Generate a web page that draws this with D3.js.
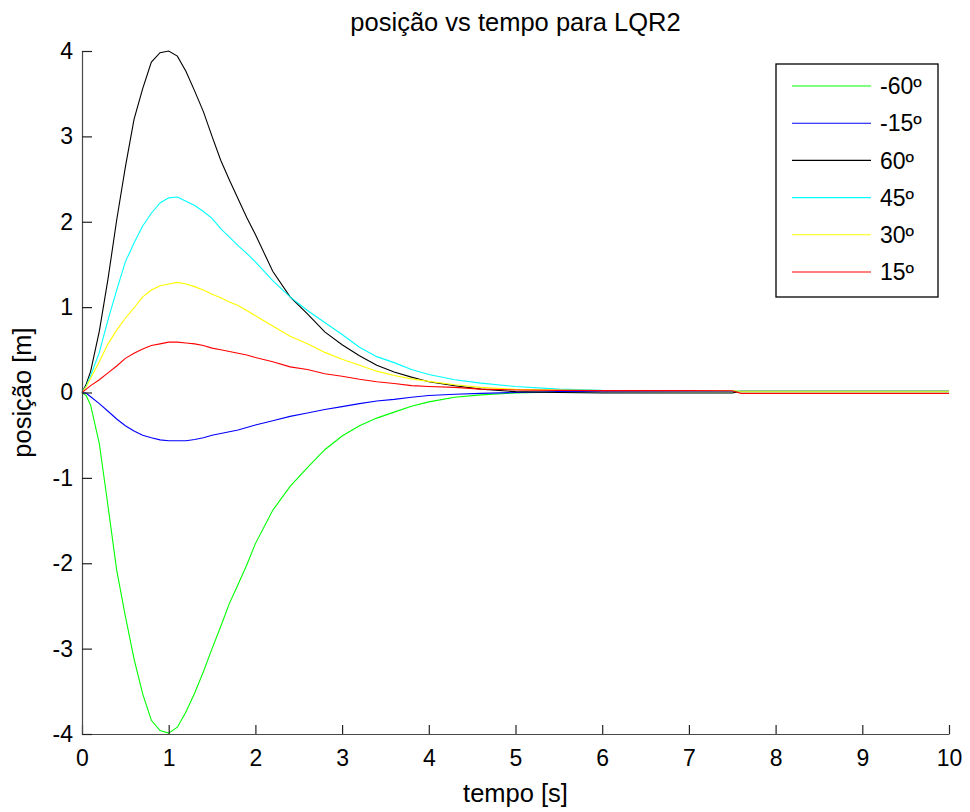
<!DOCTYPE html>
<html>
<head>
<meta charset="utf-8">
<script src="https://cdn.jsdelivr.net/npm/d3@7"></script>
<style>
  body { margin: 0; background: #fff; }
  text { font-family: Arial, "Liberation Sans", sans-serif; fill: #000; }
</style>
</head>
<body>
<div class="content"></div>
<script>
// Main data: time grid [s] and one position series [m] per initial angle
const time = [0, 0.05, 0.1, 0.2, 0.3, 0.4, 0.5, 0.6, 0.7, 0.8, 0.9, 1.0, 1.1, 1.2, 1.3, 1.4, 1.5,
  1.6, 1.7, 1.8, 1.9, 2.0, 2.2, 2.4, 2.6, 2.8, 3.0, 3.2, 3.4, 3.6, 3.8, 4.0, 4.3, 4.6, 5.0, 5.5,
  6.0, 7.0, 7.5, 7.6, 8.0, 9.0, 10.0];

const posNeg60 = [0, -0.04, -0.15, -0.6, -1.33, -2.08, -2.62, -3.12, -3.53, -3.84, -3.96, -3.99,
  -3.92, -3.74, -3.52, -3.27, -3.0, -2.74, -2.47, -2.25, -2.02, -1.77, -1.38, -1.1, -0.88, -0.67,
  -0.51, -0.39, -0.3, -0.23, -0.16, -0.11, -0.055, -0.028, -0.005, 0.005, 0.01, 0.01, 0.01, 0.01,
  0.01, 0.01, 0.01];
const posNeg15 = [0, -0.01, -0.05, -0.13, -0.22, -0.31, -0.39, -0.45, -0.5, -0.53, -0.555, -0.565,
  -0.565, -0.565, -0.55, -0.53, -0.5, -0.48, -0.46, -0.44, -0.41, -0.38, -0.33, -0.28, -0.24, -0.2,
  -0.165, -0.13, -0.1, -0.08, -0.055, -0.035, -0.02, -0.01, 0.0, 0.01, 0.01, 0.012, 0.012, 0.015,
  0.015, 0.015, 0.015];
const pos60 = [0, 0.1, 0.25, 0.72, 1.33, 2.02, 2.64, 3.2, 3.56, 3.87, 3.98, 4.0, 3.94, 3.76, 3.53,
  3.29, 3.0, 2.72, 2.49, 2.27, 2.05, 1.85, 1.42, 1.12, 0.92, 0.71, 0.56, 0.43, 0.32, 0.24, 0.18,
  0.125, 0.08, 0.04, 0.01, 0.0, -0.005, -0.005, -0.005, 0.015, 0.015, 0.015, 0.015];
const pos45 = [0, 0.08, 0.2, 0.47, 0.85, 1.2, 1.53, 1.75, 1.95, 2.1, 2.22, 2.28, 2.29, 2.24, 2.19,
  2.12, 2.04, 1.92, 1.82, 1.72, 1.63, 1.53, 1.31, 1.12, 0.96, 0.82, 0.68, 0.53, 0.42, 0.35, 0.27,
  0.21, 0.15, 0.11, 0.07, 0.04, 0.025, 0.02, 0.02, 0.015, 0.015, 0.015, 0.015];
const pos30 = [0, 0.07, 0.17, 0.36, 0.57, 0.73, 0.87, 0.99, 1.12, 1.2, 1.25, 1.27, 1.29, 1.27, 1.24,
  1.2, 1.15, 1.11, 1.06, 1.02, 0.96, 0.9, 0.78, 0.66, 0.57, 0.47, 0.39, 0.32, 0.25, 0.2, 0.16, 0.13,
  0.09, 0.06, 0.037, 0.028, 0.022, 0.02, 0.02, 0.015, 0.015, 0.015, 0.015];
const pos15 = [0, 0.04, 0.08, 0.15, 0.23, 0.31, 0.4, 0.46, 0.51, 0.55, 0.57, 0.59, 0.59, 0.58, 0.57,
  0.55, 0.52, 0.5, 0.48, 0.46, 0.44, 0.41, 0.36, 0.3, 0.27, 0.22, 0.19, 0.155, 0.125, 0.105, 0.08,
  0.07, 0.06, 0.04, 0.03, 0.025, 0.022, 0.022, 0.02, -0.01, -0.01, -0.01, -0.01];

const seriesNames = ["-60º", "-15º", "60º", "45º", "30º", "15º"];
const seriesColors = ["#00ff00", "#0000ff", "#000000", "#00ffff", "#ffff00", "#ff0000"];
const seriesValues = [posNeg60, posNeg15, pos60, pos45, pos30, pos15];

const xTicks = [0, 1, 2, 3, 4, 5, 6, 7, 8, 9, 10];
const yTicks = [-4, -3, -2, -1, 0, 1, 2, 3, 4];

// Dimensions
const W = 970;
const H = 812;
const margin = { top: 51, right: 21, bottom: 78, left: 82 };
const width = W - margin.left - margin.right;
const height = H - margin.top - margin.bottom;

const svg = d3
  .select(".content")
  .append("svg")
  .attr("width", W)
  .attr("height", H);

const chart = svg
  .append("g")
  .attr("transform", `translate(${margin.left}, ${margin.top})`);

// Scales
const xScale = d3.scaleLinear().domain([0, 10]).range([0, width]);
const yScale = d3.scaleLinear().domain([-4, 4]).range([height, 0]);

// Lines (drawn in legend order, last on top)
const line = d3
  .line()
  .x((d) => xScale(d.t))
  .y((d) => yScale(d.v));

seriesValues.forEach((vals, i) => {
  const pts = time.map((t, j) => ({ t, v: vals[j] }));
  chart
    .append("path")
    .datum(pts)
    .attr("fill", "none")
    .attr("stroke", seriesColors[i])
    .attr("stroke-width", 1.1)
    .attr("d", line);
});

// Axes: only left and bottom, ticks pointing inward
const xAxis = d3
  .axisBottom(xScale)
  .tickValues(xTicks)
  .tickFormat((d) => String(d))
  .tickSizeInner(-9)
  .tickSizeOuter(0)
  .tickPadding(16);

const yAxis = d3
  .axisLeft(yScale)
  .tickValues(yTicks)
  .tickFormat((d) => String(d))
  .tickSizeInner(-10)
  .tickSizeOuter(0)
  .tickPadding(9);

const gx = chart
  .append("g")
  .attr("transform", `translate(0, ${height})`)
  .call(xAxis);

const gy = chart.append("g").call(yAxis);

[gx, gy].forEach((g) => {
  g.select(".domain").attr("stroke", "#4a4a4a").attr("stroke-width", 1.2);
  g.selectAll(".tick line").attr("stroke", "#222").attr("stroke-width", 1.2);
  g.selectAll(".tick text")
    .attr("font-size", 23)
    .attr("font-family", "Arial, 'Liberation Sans', sans-serif")
    .attr("fill", "#000");
});

// Titles
svg
  .append("text")
  .attr("x", margin.left + width / 2)
  .attr("y", 31)
  .attr("text-anchor", "middle")
  .attr("font-size", 25.5)
  .text("posição vs tempo para LQR2");

svg
  .append("text")
  .attr("x", margin.left + width / 2)
  .attr("y", 802)
  .attr("text-anchor", "middle")
  .attr("font-size", 25.5)
  .text("tempo [s]");

svg
  .append("text")
  .attr("transform", `translate(31, ${margin.top + height / 2}) rotate(-90)`)
  .attr("text-anchor", "middle")
  .attr("font-size", 25.5)
  .text("posição [m]");

// Legend
const legend = svg.append("g").attr("transform", "translate(776, 64)");

legend
  .append("rect")
  .attr("width", 162)
  .attr("height", 233)
  .attr("fill", "#fff")
  .attr("stroke", "#000")
  .attr("stroke-width", 1.3);

const legendItems = legend
  .selectAll("g.item")
  .data(seriesNames)
  .join("g")
  .attr("class", "item")
  .attr("transform", (d, i) => `translate(0, ${22 + i * 37.2})`);

legendItems
  .append("line")
  .attr("x1", 16)
  .attr("x2", 95)
  .attr("stroke", (d, i) => seriesColors[i])
  .attr("stroke-width", 1.1);

legendItems
  .append("text")
  .attr("x", 104)
  .attr("dy", "0.36em")
  .attr("font-size", 23)
  .text((d) => d);
</script>
</body>
</html>
